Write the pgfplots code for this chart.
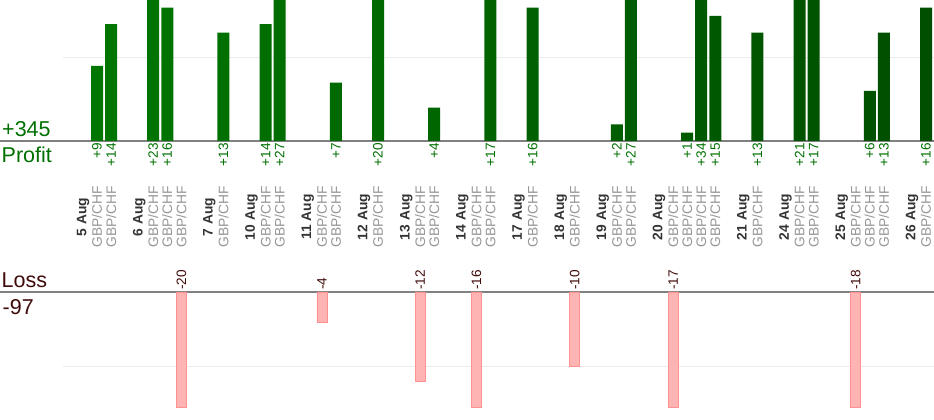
\documentclass[border=0pt]{standalone}
\usepackage{pgfplots}
\pgfplotsset{compat=1.18}
\usepackage{fontspec}
\setmainfont{Liberation Sans}
\definecolor{pgreen}{RGB}{0,112,0}
\definecolor{barL}{RGB}{0,118,0}
\definecolor{barR}{RGB}{0,78,0}
\definecolor{lossF}{RGB}{255,180,180}
\definecolor{lossE}{RGB}{255,145,145}
\definecolor{ltxt}{RGB}{64,10,10}
\definecolor{basec}{RGB}{128,128,128}
\definecolor{gridc}{RGB}{236,236,236}
\definecolor{dgray}{RGB}{51,51,51}
\definecolor{lgray}{RGB}{150,150,150}
\newcommand{\D}[1]{\textcolor{dgray}{\bfseries #1}}
\newcommand{\G}{\textcolor{lgray}{GBP/CHF}}
\begin{document}
\begin{tikzpicture}
\useasboundingbox (0,0) rectangle (934pt,420pt);
\begin{axis}[
  at={(0pt,279pt)}, anchor=south west,
  scale only axis, width=934pt, height=141pt,
  xmin=-5.907, xmax=60.57, ymin=0, ymax=16.9,
  clip=false,
  axis x line*=bottom, axis y line=none,
  x axis line style={draw=basec, line width=1.3pt, -},
  ytick=\empty,
  xtick={0,1,2,4,5,6,7,9,10,12,13,14,16,17,18,20,21,23,24,25,27,28,29,31,32,34,35,37,38,39,41,42,43,44,45,47,48,50,51,52,54,55,56,57,59,60},
  xticklabels={\D{5 Aug},\G,\G,\D{6 Aug},\G,\G,\G,\D{7 Aug},\G,\D{10 Aug},\G,\G,\D{11 Aug},\G,\G,\D{12 Aug},\G,\D{13 Aug},\G,\G,\D{14 Aug},\G,\G,\D{17 Aug},\G,\D{18 Aug},\G,\D{19 Aug},\G,\G,\D{20 Aug},\G,\G,\G,\G,\D{21 Aug},\G,\D{24 Aug},\G,\G,\D{25 Aug},\G,\G,\G,\D{26 Aug},\G},
  major tick length=0pt,
  xticklabel shift=76pt,
  xticklabel style={font=\fontsize{13.8}{15}\selectfont, rotate=90, anchor=center, inner sep=0pt},
]
\addplot[draw=gridc, line width=1pt] coordinates {(-1.42,10) (60.57,10)};
\addplot[ybar, bar width=12pt, bar shift=0pt, draw=none, left color=barL, right color=barR, restrict y to domain*=0:16.9] coordinates {
(1,9) (2,14) (5,23) (6,16) (10,13) (13,14) (14,27) (18,7) (21,20) (25,4) (29,17) (32,16) (38,2) (39,27) (43,1) (44,34) (45,15) (48,13) (51,21) (52,17) (56,6) (57,13) (60,16)};
\addplot[only marks, mark size=0pt, point meta=explicit symbolic, nodes near coords,
  every node near coord/.append style={rotate=90, anchor=east, font=\fontsize{13.6}{15}\selectfont, text=pgreen, inner sep=1.8pt}] coordinates {
(1,0) [+9] (2,0) [+14] (5,0) [+23] (6,0) [+16] (10,0) [+13] (13,0) [+14] (14,0) [+27] (18,0) [+7] (21,0) [+20] (25,0) [+4] (29,0) [+17] (32,0) [+16] (38,0) [+2] (39,0) [+27] (43,0) [+1] (44,0) [+34] (45,0) [+15] (48,0) [+13] (51,0) [+21] (52,0) [+17] (56,0) [+6] (57,0) [+13] (60,0) [+16]};
\end{axis}
\begin{axis}[
  at={(0pt,13pt)}, anchor=south west,
  scale only axis, width=934pt, height=115pt,
  xmin=-5.907, xmax=60.57, ymin=-15.4, ymax=0,
  clip=false,
  axis x line*=top, axis y line=none,
  x axis line style={draw=basec, line width=1.3pt, -},
  xtick=\empty, ytick=\empty,
]
\addplot[draw=gridc, line width=1pt] coordinates {(-1.42,-10) (60.57,-10)};
\addplot[ybar, bar width=10pt, bar shift=0pt, draw=lossE, line width=0.6pt, fill=lossF, restrict y to domain*=-15.4:0] coordinates {
(7,-20) (17,-4) (24,-12) (28,-16) (35,-10) (42,-17) (55,-18)};
\addplot[only marks, mark size=0pt, point meta=explicit symbolic, nodes near coords,
  every node near coord/.append style={rotate=90, anchor=west, font=\fontsize{13.6}{15}\selectfont, text=ltxt, inner sep=2pt}] coordinates {
(7,0) [-20] (17,0) [-4] (24,0) [-12] (28,0) [-16] (35,0) [-10] (42,0) [-17] (55,0) [-18]};
\end{axis}
\node[anchor=base west, inner sep=0pt, text=pgreen, font=\fontsize{21.5}{24}\selectfont] at (2pt,283.3pt) {+345};
\node[anchor=base west, inner sep=0pt, text=pgreen, font=\fontsize{21.5}{24}\selectfont] at (1.5pt,257.7pt) {Profit};
\node[anchor=base west, inner sep=0pt, text=ltxt, font=\fontsize{21.5}{24}\selectfont] at (1.5pt,132.7pt) {Loss};
\node[anchor=base west, inner sep=0pt, text=ltxt, font=\fontsize{21.5}{24}\selectfont] at (2.5pt,105.7pt) {-97};
\end{tikzpicture}
\end{document}
